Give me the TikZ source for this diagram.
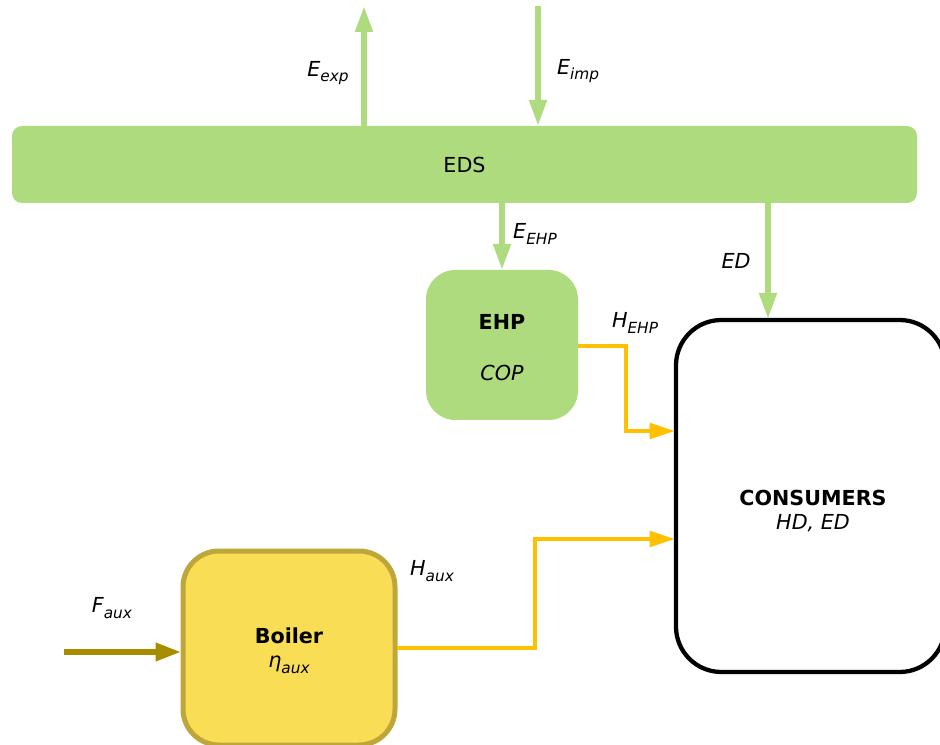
\documentclass[tikz,border=0pt]{standalone}
\usepackage{fontspec}
\setmainfont{DejaVu Sans}
\usetikzlibrary{arrows.meta,calc}
\definecolor{eGreen}{HTML}{AEDB7E}
\definecolor{hOrange}{HTML}{FFC000}
\definecolor{bFill}{HTML}{F9DE55}
\definecolor{bEdge}{HTML}{BFA63B}
\definecolor{fOlive}{HTML}{A88C00}
\newcommand\sub[1]{\raisebox{-0.28em}{\fontsize{11.5}{12}\selectfont #1}}
\begin{document}
\begin{tikzpicture}[x=0.75pt,y=-0.75pt,
  every node/.style={font=\fontsize{15.5}{19}\selectfont},
  box/.style={inner sep=0pt,outer sep=0pt},
  lbl/.style={inner sep=0pt,font=\fontsize{15.5}{19}\selectfont\itshape},
  bold/.style={inner sep=0pt,font=\fontsize{15.5}{19}\selectfont\bfseries},
  garrow/.style={draw=eGreen,line width=4.2pt,-{Triangle[width=12.5pt,length=19.5pt]}},
  oline/.style={draw=hOrange,line width=3.2pt,-{Triangle[width=11.5pt,length=19pt]}},
  farrow/.style={draw=fOlive,line width=4.2pt,-{Triangle[width=13pt,length=19pt]}}]
\clip (0,0) rectangle (940,745);
\useasboundingbox (0,0) rectangle (940,745);

% blocks
\node[box,fill=eGreen,rounded corners=7.5pt,minimum width=905*0.75pt,minimum height=77*0.75pt] (eds) at (464.5,164.5) {EDS};
\node[box,fill=eGreen,rounded corners=22pt,minimum width=152*0.75pt,minimum height=150*0.75pt] (ehp) at (502,345) {};
\node[box,draw=black,line width=3.2pt,fill=white,rounded corners=34pt,minimum width=269*0.75pt,minimum height=352*0.75pt] (cons) at (810.5,496) {};
\node[box,draw=bEdge,line width=3.75pt,fill=bFill,rounded corners=27pt,minimum width=212*0.75pt,minimum height=194*0.75pt] (boiler) at (289,648) {};

% block texts
\node[bold] (ehpname) at ($(ehp)+(0,-23)$) {EHP};
\node[lbl] (ehpcop) at ($(ehp)+(0,28)$) {COP};
\node[bold] (consname) at (813,498) {CONSUMERS};
\node[lbl] (consvars) at (813,523) {HD, ED};
\node[bold] (boilname) at ($(boiler)+(0,-12)$) {Boiler};
\node[lbl] (boileta) at ($(boiler)+(0,17)$) {η\sub{aux}};

% helper points
\coordinate (expTop) at (364,6);
\coordinate (impTop) at (538,6);
\coordinate (edX) at (768,0);
\coordinate (hehpY) at (0,431);
\coordinate (hauxY) at (0,539);
\coordinate (fStart) at (64,652);

% electricity flows
\draw[garrow] (eds.north -| expTop) -- (expTop);
\draw[garrow] (impTop) -- (eds.north -| impTop);
\draw[garrow] (eds.south -| ehp) -- (ehp.north);
\draw[garrow] (eds.south -| edX) -- ($(cons.north -| edX)+(0,-1)$);

% heat flows
\draw[oline] ($(ehp.east)+(0,1)$) -- ++(48,0) |- ($(cons.west |- hehpY)+(-1,0)$);
\draw[oline] ($(boiler.east)+(2,0)$) -- ++(138,0) |- ($(cons.west |- hauxY)+(-1,0)$);

% fuel input
\draw[farrow] (fStart) -- ($(boiler.west |- fStart)+(-2,0)$);

% flow labels
\node[lbl] (lexp) at (328,73) {E\sub{exp}};
\node[lbl] (limp) at (578,71) {E\sub{imp}};
\node[lbl] (lehp) at (535,234) {E\sub{EHP}};
\node[lbl] (led) at (736,261) {ED};
\node[lbl] (lhehp) at (635,323) {H\sub{EHP}};
\node[lbl] (lhaux) at (432,571) {H\sub{aux}};
\node[lbl] (lfaux) at (112,608) {F\sub{aux}};
\end{tikzpicture}
\end{document}
